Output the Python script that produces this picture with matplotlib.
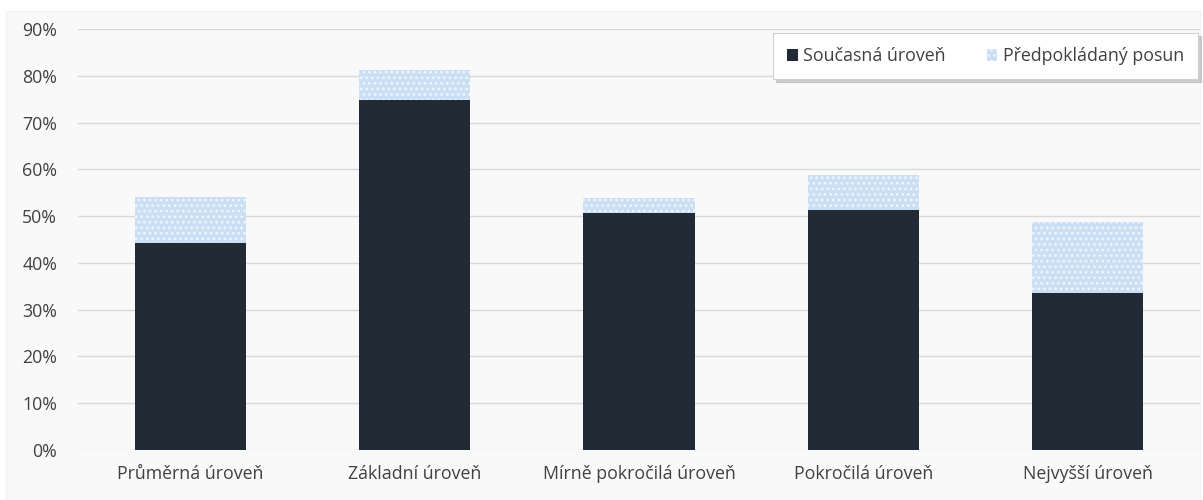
import matplotlib
matplotlib.use("Agg")
import matplotlib.pyplot as plt
from matplotlib.patches import Rectangle
from matplotlib.ticker import FuncFormatter

categories = ["Průměrná úroveň", "Základní úroveň", "Mírně pokročilá úroveň",
              "Pokročilá úroveň", "Nejvyšší úroveň"]
current = [0.442, 0.748, 0.506, 0.513, 0.335]
total = [0.541, 0.812, 0.538, 0.588, 0.487]
shift = [t - c for t, c in zip(total, current)]
series_names = ["Současná úroveň", "Předpokládaný posun"]

plt.rcParams['font.family'] = ['Open Sans', 'DejaVu Sans']
plt.rcParams['hatch.linewidth'] = 1.2

fig = plt.figure(figsize=(12.03, 5.0), dpi=100)
fig.patch.set_facecolor('white')
fig.patches.append(Rectangle((6/1203, 0), 1194/1203, 1 - 11/500, transform=fig.transFigure,
                             facecolor='#f9f9f9', edgecolor='#f0f0f0', lw=0.8, zorder=-5))

ax = fig.add_axes([78/1203, 50/500, 1122/1203, 421/500])
ax.set_facecolor('none')
x = list(range(len(categories)))
ax.bar(x, current, width=0.495, color='#222a35', label=series_names[0], zorder=3)
ax.bar(x, shift, bottom=current, width=0.495, facecolor='#cadff4', edgecolor='#eef5fd',
       hatch='...', linewidth=0, label=series_names[1], zorder=3)

ax.set_xlim(-0.5, 4.5)
ax.set_ylim(0, 0.9)
ax.set_yticks([i / 10 for i in range(10)])
ax.yaxis.set_major_formatter(FuncFormatter(lambda v, p: f"{v*100:.0f}%"))
ax.set_xticks(x)
ax.set_xticklabels(categories)
ax.grid(axis='y', color='#d9d9d9', linewidth=1.0, zorder=0)
for s in ax.spines.values():
    s.set_visible(False)
ax.tick_params(axis='both', length=0, labelsize=12.8, colors='#404040')
ax.tick_params(axis='x', pad=11)
ax.tick_params(axis='y', pad=15)

leg = ax.legend(loc='upper right', bbox_to_anchor=(1198/1203, 1 - 33/500),
                bbox_transform=fig.transFigure, ncol=2, frameon=True, fontsize=12.8,
                handlelength=0.6, handleheight=0.6, handletextpad=0.3, columnspacing=2.3,
                borderpad=0.8, borderaxespad=0, fancybox=False,
                shadow={'color': '#b0b0b0', 'alpha': 0.6})
leg.get_frame().set_edgecolor('#d0d0d0')
leg.get_frame().set_linewidth(0.8)
for t in leg.get_texts():
    t.set_color('#404040')

fig.savefig("out.png", dpi=100, facecolor='white')
